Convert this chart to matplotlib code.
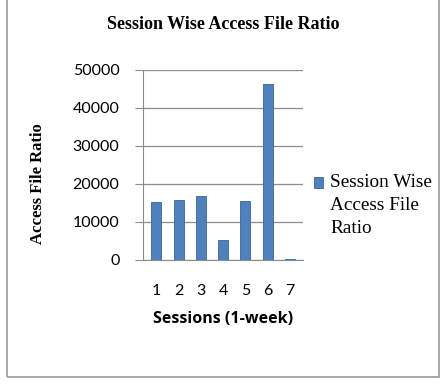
import matplotlib.pyplot as plt
from matplotlib.patches import Rectangle
from matplotlib.legend_handler import HandlerPatch

sessions = ['1', '2', '3', '4', '5', '6', '7']
access_ratio = [15300, 15800, 16800, 5200, 15600, 46200, 200]
yticks = [0, 10000, 20000, 30000, 40000, 50000]
series_name = 'Session Wise\nAccess File\nRatio'

bar_color = '#4f81bd'
grid_color = '#8c8c8c'


# legend square sits next to the first line of the wrapped label, like Excel
def top_square(legend, orig_handle, xdescent, ydescent, width, height, fontsize):
    return Rectangle((-xdescent, -ydescent + 16.5), width, height)


fig = plt.figure(figsize=(4.47, 3.84), dpi=100)
ax = fig.add_axes([0.32, 0.323, 0.358, 0.495])

x = range(len(sessions))
bars = ax.bar(x, access_ratio, width=0.45, color=bar_color, edgecolor='#3a6596',
              linewidth=0.6, zorder=3)

ax.set_xlim(-0.6, 6.6)
ax.set_ylim(0, 50000)
ax.set_yticks(yticks)
ax.set_yticklabels([str(t) for t in yticks], fontname='Lato', fontsize=11.5)
ax.set_xticks(list(x))
ax.set_xticklabels(sessions, fontname='Lato', fontsize=11.5)
ax.tick_params(axis='y', length=6, color=grid_color, pad=11)
ax.tick_params(axis='x', length=0, pad=17)
ax.grid(axis='y', color=grid_color, linewidth=0.9, zorder=0)

for s in ['top', 'right']:
    ax.spines[s].set_visible(False)
ax.spines['left'].set_color(grid_color)
ax.spines['bottom'].set_color(grid_color)

ax.set_xlabel('Sessions (1-week)', fontname='Open Sans', fontweight='bold',
              fontsize=11.5, labelpad=10)

fig.text(0.085, 0.521, 'Access File Ratio', rotation=90, ha='center', va='center',
         fontname='Liberation Serif', fontweight='bold', fontsize=12)

fig.text(0.5, 0.935, 'Session Wise Access File Ratio', ha='center', va='center',
         fontname='Liberation Serif', fontweight='bold', fontsize=13)

handle = bars.patches[0]
leg = fig.legend([handle], [series_name], loc='upper left',
                 bbox_to_anchor=(0.685, 0.566), frameon=False,
                 prop={'family': 'Liberation Serif', 'size': 13.9},
                 handlelength=0.45, handleheight=0.45, handletextpad=0.4,
                 borderaxespad=0,
                 handler_map={handle: HandlerPatch(patch_func=top_square)})
for t in leg.get_texts():
    t.set_linespacing(1.45)

# outer chart border (top edge is cut off in the original)
fig.patches.append(Rectangle((0.016, 0.018), 0.966, 1.1, transform=fig.transFigure,
                             fill=False, edgecolor='#9a9a9a', linewidth=1.2))

fig.savefig('out.png', dpi=100)
